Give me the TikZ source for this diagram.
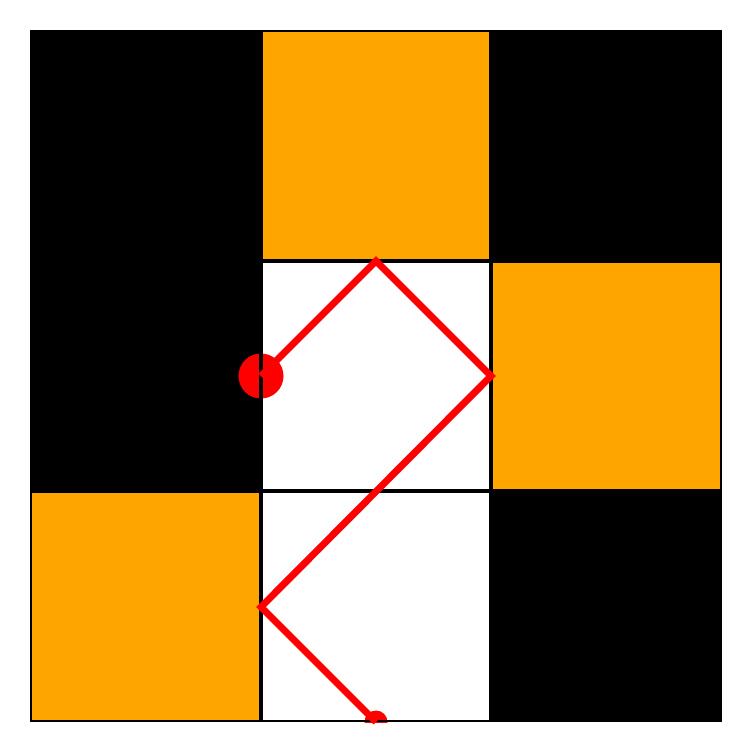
\documentclass[tikz,border=0pt]{standalone}
\definecolor{orng}{HTML}{FFA500}
\definecolor{rd}{HTML}{FF0000}
\begin{document}
\begin{tikzpicture}[x=1pt,y=-1pt,
  cellbox/.style={draw=black,line width=2pt},
  path red/.style={draw=rd,line width=7pt,line join=miter}]
\useasboundingbox (0,0) rectangle (753,753);
% fills
\def\s{230.667}
\fill[black] (30,30) rectangle ++(\s,\s);
\fill[orng] (260.667,30) rectangle ++(\s,\s);
\fill[black] (491.333,30) rectangle ++(\s,\s);
\fill[black] (30,260.667) rectangle ++(\s,\s);
\fill[white] (260.667,260.667) rectangle ++(\s,\s);
\fill[orng] (491.333,260.667) rectangle ++(\s,\s);
\fill[orng] (30,491.333) rectangle ++(\s,\s);
\fill[white] (260.667,491.333) rectangle ++(\s,\s);
\fill[black] (491.333,491.333) rectangle ++(\s,\s);
% dots
\coordinate (p0) at (261,376);
\coordinate (p1) at (376,261);
\coordinate (p2) at (491,376);
\coordinate (p3) at (261,607);
\coordinate (p4) at (376,722);
\fill[rd] (p0) circle (22.5);
\begin{scope}
\clip (30,30) rectangle (722,722);
\fill[rd] (p4) circle (11.5);
\end{scope}
% borders
\foreach \i in {0,1,2}{
  \foreach \j in {0,1,2}{
    \draw[cellbox] ({30+\i*\s+1},{30+\j*\s+1}) rectangle ++({\s-2},{\s-2});
  }
}
% red path
\draw[path red] (p0) -- (p1) -- (p2) -- (p3) -- (p4);
\end{tikzpicture}
\end{document}
